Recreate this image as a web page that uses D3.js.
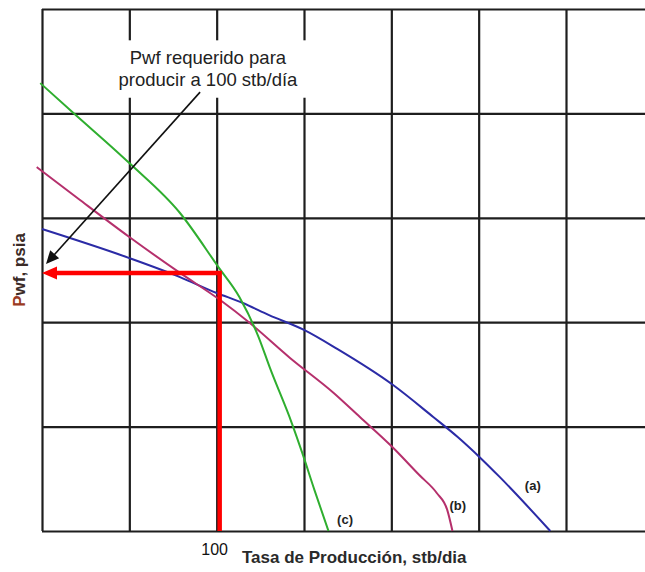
<!DOCTYPE html>
<html>
<head>
<meta charset="utf-8">
<script src="https://cdn.jsdelivr.net/npm/d3@7"></script>
<style>
  body { margin: 0; background: #fff; }
  text { font-family: "Liberation Sans", Arial, sans-serif; }
</style>
</head>
<body>
<div id="chart"></div>
<script>
(function () {

  // curves (rate in stb/dia, pwf in psia)
  var rateA = [0, 50, 79, 100, 115, 130, 150, 169, 201, 224, 238, 251, 262, 291];
  var pwfA  = [1446, 1307, 1216, 1140, 1092, 1034, 963, 872, 699, 546, 450, 350, 259, 0];

  var rateB = [-3, 21, 50, 79, 102, 119, 142, 167, 182, 200, 216, 226, 232, 235];
  var pwfB  = [1743, 1590, 1408, 1236, 1106, 996, 829, 661, 546, 407, 268, 182, 101, 0];

  var rateC = [-1, 18, 50, 79, 101, 113, 124, 130.5, 143, 149, 156, 164];
  var pwfC  = [2145, 2002, 1762, 1523, 1264, 1121, 929, 781, 517, 374, 196, 0];

  var xGrid = [0, 50, 100, 150, 200, 250, 300];
  var yGrid = [0, 500, 1000, 1500, 2000, 2500];

  var reqRate = 100;
  var reqPwf = 1236;
  var rateLabel = "100";

  var width = 645;
  var height = 572;

  var x = d3.scaleLinear().domain([0, 300]).range([42, 566]);
  var y = d3.scaleLinear().domain([0, 2500]).range([531, 9]);

  var svg = d3.select("#chart")
    .append("svg")
    .attr("width", width)
    .attr("height", height)

  svg.append("rect")
    .attr("width", width)
    .attr("height", height)
    .attr("fill", "#fff")

  // vertical grid lines
  var gx = svg.append("g")
    .attr("transform", "translate(0," + y(0) + ")")
    .call(d3.axisBottom(x).tickValues(xGrid).tickSize(-(y(0) - y(2500))).tickFormat(""))
  gx.select(".domain").remove()

  // horizontal grid lines, running off the right edge
  var gy = svg.append("g")
    .attr("transform", "translate(" + x(0) + ",0)")
    .call(d3.axisLeft(y).tickValues(yGrid).tickSize(-(width - x(0))).tickFormat(""))
  gy.select(".domain").remove()

  svg.selectAll(".tick line")
    .attr("stroke", "#1e1e1e")
    .attr("stroke-width", 2.2)

  // white box under the note
  svg.append("rect")
    .attr("x", x(40))
    .attr("y", y(2350))
    .attr("width", x(165) - x(40))
    .attr("height", y(2075) - y(2350))
    .attr("fill", "#fff")

  svg.append("text")
    .attr("x", x(95))
    .attr("y", y(2236))
    .attr("text-anchor", "middle")
    .attr("font-size", "18.5px")
    .attr("fill", "#222")
    .text("Pwf requerido para")

  svg.append("text")
    .attr("x", x(95))
    .attr("y", y(2131))
    .attr("text-anchor", "middle")
    .attr("font-size", "18.5px")
    .attr("fill", "#222")
    .text("producir a 100 stb/día")

  var line = d3.line()
    .x(function (d) { return x(d[0]); })
    .y(function (d) { return y(d[1]); })
    .curve(d3.curveMonotoneX)

  function curve(rates, pwfs, color) {
    var pts = rates.map(function (r, i) { return [r, pwfs[i]]; });
    svg.append("path")
      .attr("d", line(pts))
      .attr("fill", "none")
      .attr("stroke", color)
      .attr("stroke-width", 2)
  }

  curve(rateA, pwfA, "#2b2ba6");
  curve(rateB, pwfB, "#b5306c");
  curve(rateC, pwfC, "#2fae2f");

  // curve names
  var names = [["(a)", 281, 196], ["(b)", 238, 100], ["(c)", 173.5, 34]];
  svg.selectAll(".cname")
    .data(names)
    .enter()
    .append("text")
    .attr("class", "cname")
    .attr("x", function (d) { return x(d[1]); })
    .attr("y", function (d) { return y(d[2]); })
    .attr("text-anchor", "middle")
    .attr("font-size", "13px")
    .attr("font-weight", "bold")
    .attr("fill", "#222")
    .text(function (d) { return d[0]; })

  // black pointer from the note to the axis
  var p0 = [x(90.5), y(2102)];
  var p1 = [x(2.3), y(1279)];
  var ang = Math.atan2(p1[1] - p0[1], p1[0] - p0[0]);
  svg.append("line")
    .attr("x1", p0[0]).attr("y1", p0[1])
    .attr("x2", p1[0] - 9 * Math.cos(ang)).attr("y2", p1[1] - 9 * Math.sin(ang))
    .attr("stroke", "#111")
    .attr("stroke-width", 1.6)
  svg.append("path")
    .attr("d", arrowHead(p1, ang, 13, 6))
    .attr("fill", "#111")

  // red path: up from the rate, left to the axis
  svg.append("polyline")
    .attr("points", [[x(reqRate) + 3, y(0)], [x(reqRate) + 3, y(reqPwf)], [x(0) + 12, y(reqPwf)]].join(" "))
    .attr("fill", "none")
    .attr("stroke", "#ff0000")
    .attr("stroke-width", 4.5)
  svg.append("path")
    .attr("d", arrowHead([x(0), y(reqPwf)], Math.PI, 15, 6.5))
    .attr("fill", "#ff0000")

  function arrowHead(tip, a, len, half) {
    var bx = tip[0] - len * Math.cos(a), by = tip[1] - len * Math.sin(a);
    var nx = -Math.sin(a) * half, ny = Math.cos(a) * half;
    return "M" + tip[0] + "," + tip[1] +
      "L" + (bx + nx) + "," + (by + ny) +
      "L" + (bx - nx) + "," + (by - ny) + "Z";
  }

  // axis texts
  svg.append("text")
    .attr("x", x(reqRate) - 2)
    .attr("y", 555)
    .attr("text-anchor", "middle")
    .attr("font-size", "16px")
    .attr("fill", "#111")
    .text(rateLabel)

  svg.append("text")
    .attr("x", 242)
    .attr("y", 563)
    .attr("font-size", "17px")
    .attr("font-weight", "bold")
    .attr("fill", "#2a2a2a")
    .text("Tasa de Producción, stb/dia")

  var ylab = svg.append("text")
    .attr("transform", "translate(25,270) rotate(-90)")
    .attr("text-anchor", "middle")
    .attr("font-size", "17px")
    .attr("font-weight", "bold")
    .attr("fill", "#3a2a26")
  ylab.append("tspan").attr("fill", "#9a3a22").text("P")
  ylab.append("tspan").text("wf, psia")

})();
</script>
</body>
</html>
